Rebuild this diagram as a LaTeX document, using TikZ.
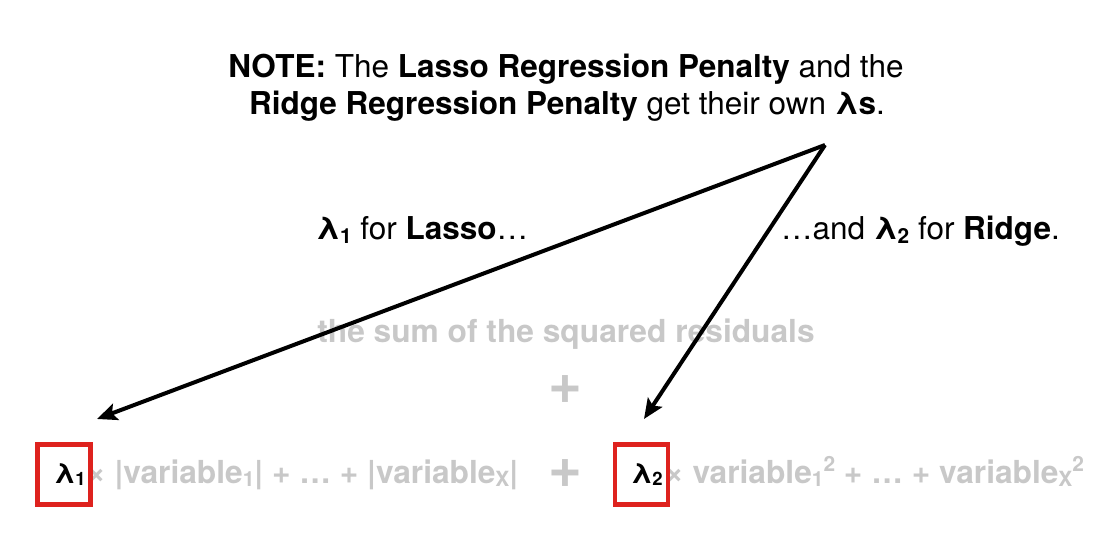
\documentclass[tikz,border=0pt]{standalone}
\usepackage{fontspec}
\usepackage{graphicx}
\setmainfont{TeX Gyre Heros}
\usetikzlibrary{arrows.meta}
\definecolor{txtgray}{RGB}{200,200,200}
\definecolor{boxred}{RGB}{222,34,30}
\newcommand\lsub[1]{\raisebox{-0.1em}{\scalebox{0.66}{#1}}}
\newcommand\lsup[1]{\raisebox{0.36em}{\scalebox{0.66}{#1}}}
\tikzset{
  note/.style={font=\fontsize{31.5}{36}\selectfont, inner sep=0pt},
  graytxt/.style={font=\fontsize{31.7}{36}\selectfont\bfseries, text=txtgray, inner sep=0pt},
  bigplus/.style={font=\fontsize{58}{58}\selectfont\bfseries, text=txtgray, inner sep=0pt},
  lambox/.style={draw=boxred, line width=4.5pt, fill=white, minimum width=53pt, minimum height=60pt, inner sep=0pt},
  lamtxt/.style={font=\fontsize{28}{32}\selectfont\bfseries, inner sep=0pt},
  pointer/.style={line width=4pt, -{Stealth[length=20pt,width=17pt,inset=4pt]}},
}
\begin{document}
\begin{tikzpicture}[x=1pt,y=-1pt]
\useasboundingbox[fill=white] (0,0) rectangle (1106,553);
\node[note, anchor=base] (note1) at (566,78) {\textbf{NOTE:} The \textbf{Lasso Regression Penalty} and the};
\node[note, anchor=base] (note2) at (567,115) {\textbf{Ridge Regression Penalty} get their own \textbf{λs}.};
\node[note, anchor=base west] (forlasso) at (316,240) {\textbf{λ\lsub{1}} for \textbf{Lasso}…};
\node[note, anchor=base east] (forridge) at (1060,240) {…and \textbf{λ\lsub{2}} for \textbf{Ridge}.};
\node[graytxt, anchor=base] (ssr) at (566,343) {the sum of the squared residuals};
\node[bigplus] (plus1) at (565,390) {+};
\node[graytxt, anchor=base west] (lassoterm) at (87,483) {× |variable\lsub{1}| + … + |variable\lsub{X}|};
\node[bigplus] (plus2) at (565,474) {+};
\node[graytxt, anchor=base west] (ridgeterm) at (665,483) {× variable\lsub{1}\lsup{2} + … + variable\lsub{X}\lsup{2}};
\node[lambox] (box1) at (64,474.5) {};
\node[lamtxt, anchor=base west] (lam1) at (54,483) {λ\lsub{1}};
\node[lambox] (box2) at (641.5,474.5) {};
\node[lamtxt, anchor=base west] (lam2) at (631,483) {λ\lsub{2}};
\coordinate (apex) at (825,145);
\coordinate (end1) at (97,419);
\coordinate (end2) at (644,419);
\draw[pointer] (apex) -- (end1);
\draw[pointer] (apex) -- (end2);
\end{tikzpicture}
\end{document}
